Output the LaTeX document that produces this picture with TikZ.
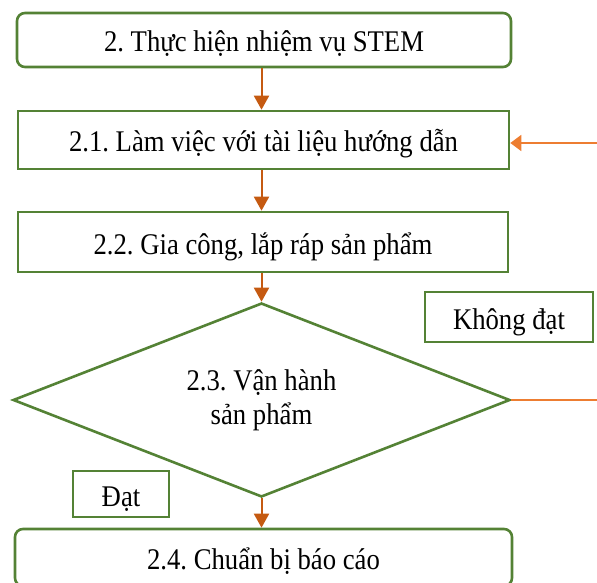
\documentclass[tikz,border=0pt]{standalone}
\usepackage{fontspec}
\setmainfont{Liberation Serif}[FakeStretch=0.89]
\usepackage{tikz}
\definecolor{StemGreen}{HTML}{548235}
\definecolor{StemArrow}{HTML}{C55A11}
\definecolor{StemLoop}{HTML}{ED7D31}
\usetikzlibrary{shapes.geometric}
\usetikzlibrary{arrows.meta}
\frenchspacing
\newcommand{\stepfont}{\fontsize{30pt}{34pt}\selectfont}
\newcommand{\greenw}{2.6pt}
\newcommand{\orangew}{1.6pt}
\tikzset{
  stepline/.style={draw=StemGreen, line width=\greenw, inner sep=0pt},
  stepbox/.style={stepline, text height=28pt, text depth=4pt},
  roundbox/.style={stepbox, rounded corners=8pt},
  flowarr/.style={draw=StemArrow, line width=2pt,
    -{Triangle[width=15pt,length=14pt]}},
  looparr/.style={draw=StemLoop, line width=\orangew,
    -{Triangle[width=16pt,length=11pt]}},
  loopline/.style={draw=StemLoop, line width=\orangew}
}

\begin{document}
\begin{tikzpicture}[x=1pt,y=-1pt,font=\stepfont]
    \useasboundingbox (0,0) rectangle (597,583);
    % steps
    \node[roundbox, minimum width=494pt, minimum height=54pt]
      (thuchien) at (264,40) {2. Thực hiện nhiệm vụ STEM};
    \node[stepbox, minimum width=491pt, minimum height=58pt]
      (lamviec) at (263.5,140) {2.1. Làm việc với tài liệu hướng dẫn};
    \node[stepbox, minimum width=490pt, minimum height=60pt]
      (giacong) at (263,242) {2.2. Gia công, lắp ráp sản phẩm};
    \node[stepline, diamond, aspect=2.5, align=center,
      minimum width=497pt, minimum height=194pt]
      (vanhanh) at (261.5,400) {2.3. Vận hành\\sản phẩm};
    \node[roundbox, minimum width=497pt, minimum height=57pt]
      (baocao) at (263.5,557.5) {2.4. Chuẩn bị báo cáo};
    % labels of the two ways out
    \node[stepbox, minimum width=168pt, minimum height=50pt]
      (khongdat) at (509,317) {Không đạt};
    \node[stepbox, minimum width=96pt, minimum height=46pt]
      (dat) at (121,494) {Đạt};

    % arrows down
    \draw[flowarr] (thuchien.south -| vanhanh.north) -- (lamviec.north -| vanhanh.north);
    \draw[flowarr] (lamviec.south -| vanhanh.north) -- (giacong.north -| vanhanh.north);
    \draw[flowarr] (giacong.south -| vanhanh.north) -- (vanhanh.north);
    \draw[flowarr] (vanhanh.south) -- (baocao.north -| vanhanh.south);

    % way back
    \coordinate (loopout) at (597,400);
    \coordinate (loopin) at (597,143);
    \draw[loopline] (vanhanh.east) -- (loopout);
    \draw[looparr] (loopin) -- (loopin -| lamviec.east);
\end{tikzpicture}
\end{document}
